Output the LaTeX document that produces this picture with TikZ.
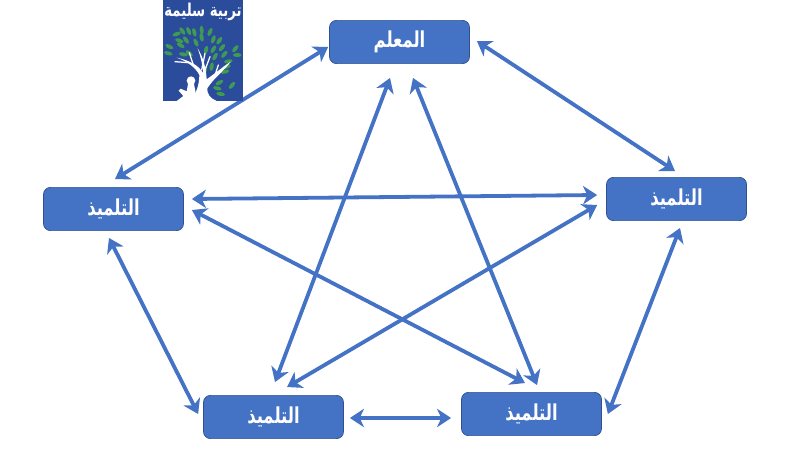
\documentclass[tikz,border=0pt]{standalone}
\usepackage{graphicx}
\usepackage{fontspec}
\newfontfamily\arabicfont[Script=Arabic]{DejaVu Sans}
\TeXXeTstate=1
\usetikzlibrary{arrows.meta,calc}
\definecolor{boxblue}{HTML}{4472C4}
\definecolor{boxedge}{HTML}{2F528F}
\definecolor{logoblue}{HTML}{2B4B9B}
\definecolor{leafgreen}{HTML}{3F9B52}
\newcommand{\arlabel}[1]{\scalebox{0.9}[1.2]{\beginR #1\endR}}
\tikzset{
  person/.style={draw=boxedge, line width=0.5pt, fill=boxblue, rounded corners=5pt, minimum width=3.5cm, minimum height=1.08cm, text=white, font=\arabicfont\bfseries\fontsize{13}{15}\selectfont, inner sep=0pt},
  link/.style={draw=boxblue, line width=2.7pt, {Stealth[length=10pt,width=13pt,inset=3pt]}-{Stealth[length=10pt,width=13pt,inset=3pt]}},
  branch/.style={draw=white, line cap=round}
}
\begin{document}
\begin{tikzpicture}[x=0.025cm, y=-0.025cm, line join=round]
 \useasboundingbox (0,0) rectangle (800,465);
 \node[person] (teacher) at (399.5,42) {\arlabel{المعلم}};
 \node[person] (left) at (113.5,209) {\arlabel{التلميذ}};
 \node[person] (right) at (676.5,199) {\arlabel{التلميذ}};
 \node[person] (lower) at (273.5,417) {\arlabel{التلميذ}};
 \node[person] (lowerb) at (531.5,414) {\arlabel{التلميذ}};
 % outer ring
 \draw[link] ($(teacher.west)+(-1,5)$) -- ($(left.north)+(1.5,-8)$);
 \draw[link] ($(teacher.east)+(7,-1)$) -- ($(right.north)+(-1.5,-6)$);
 \draw[link] ($(left.south)+(-4.5,7)$) -- ($(lower.west)+(-5,-3)$);
 \draw[link] ($(right.south)+(3.5,7)$) -- ($(lowerb.east)+(6,0)$);
 \draw[link] ($(lower.east)+(6,1)$) -- ($(lowerb.west)+(-10,4)$);
 % star
 \draw[link] ($(teacher.south)+(-9.5,14)$) -- ($(lower.north)+(1.5,-13)$);
 \draw[link] ($(teacher.south)+(13.5,14)$) -- ($(lowerb.north)+(5.5,-7)$);
 \draw[link] ($(left.east)+(8,-10)$) -- ($(right.west)+(-9,-4)$);
 \draw[link] ($(left.east)+(8,1)$) -- ($(lowerb.north)+(-6.5,-9)$);
 \draw[link] ($(right.west)+(-9,6)$) -- ($(lower.north)+(13.5,-8)$);
 % logo
 \fill[logoblue] (163,0) rectangle (243,101);
 \node (logotitle) at (203,12) [text=white, font=\arabicfont\bfseries\fontsize{10.5}{12}\selectfont, inner sep=0pt] {\arlabel{تربية سليمة}};
 \begin{scope}[shift={(160,20)}, x=0.00833cm, y=-0.00833cm]
  \foreach \x/\y/\r in {50/42/20, 67/33/-55, 86/33/-65, 103/37/-75, 125/30/-85, 150/36/65, 178/62/55, 186/83/50, 193/103/50, 226/86/50, 232/105/0,
    28/80/-25, 25/100/-15, 58/62/-20, 62/76/-30, 78/60/-55, 108/68/-65, 125/52/-80, 160/58/70, 160/88/60, 138/90/75,
    70/103/-10, 88/100/-40, 165/110/60, 205/124/10, 200/140/20, 195/155/15, 135/150/75, 155/140/80,
    178/188/30, 216/196/50, 172/205/-15, 182/222/-10} {
   \fill[leafgreen, rotate around={\r:(\x,\y)}] (\x,\y) ellipse (13 and 6);
  }
  % tree and child
  \fill[white] (88,243) .. controls (110,225) and (118,190) .. (118,165) .. controls (108,145) and (85,125) .. (50,113) .. controls (90,122) and (115,135) .. (130,160) .. controls (128,135) and (122,110) .. (113,85) .. controls (130,112) and (138,145) .. (140,178) .. controls (165,160) and (190,140) .. (212,125) .. controls (195,150) and (160,175) .. (142,205) .. controls (140,220) and (150,235) .. (170,243) -- cycle;
  \draw[branch, line width=0.9pt] (85,128) -- (45,125) (100,135) -- (88,98) (135,150) -- (150,110) (165,165) -- (175,135) (125,150) -- (135,100);
  \fill[white] (93,182) circle (13);
  \fill[white] (84,192) -- (102,192) -- (112,243) -- (50,243) -- (70,228) -- (56,212) -- (62,206) -- (80,214) -- cycle;
 \end{scope}
\end{tikzpicture}
\end{document}
